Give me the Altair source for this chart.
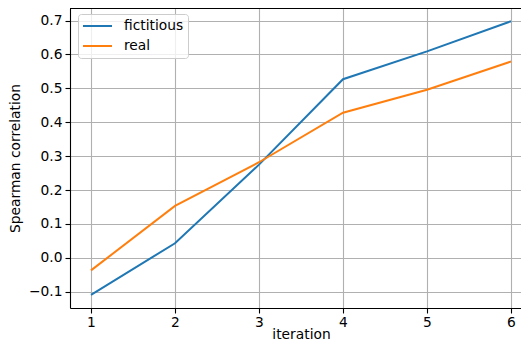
import altair as alt
import pandas as pd

iterations = [1, 2, 3, 4, 5, 6]
fictitious = [-0.109, 0.043, 0.275, 0.527, 0.609, 0.698]
real = [-0.037, 0.153, 0.282, 0.428, 0.496, 0.579]
series_names = ["fictitious", "real"]
colors = ["#1f77b4", "#ff7f0e"]
y_ticks = [-0.1, 0.0, 0.1, 0.2, 0.3, 0.4, 0.5, 0.6, 0.7]

rows = []
for name, vals in zip(series_names, [fictitious, real]):
    for it, v in zip(iterations, vals):
        rows.append({"iteration": it, "value": v, "series": name})
df = pd.DataFrame(rows)

FONT = "DejaVu Sans"
FS = 13.8
W = 451

lines = alt.Chart(df).mark_line(strokeWidth=2, clip=True).encode(
    x=alt.X("iteration:Q",
            scale=alt.Scale(domain=[0.75, 6.119], nice=False, zero=False),
            axis=alt.Axis(values=iterations, format="d", title="iteration",
                          grid=True, titleX=231, titleY=33, titleAlign="center",
                          titleBaseline="bottom", labelPadding=2)),
    y=alt.Y("value:Q",
            scale=alt.Scale(domain=[-0.148, 0.737], nice=False, zero=False),
            axis=alt.Axis(values=y_ticks, format=".1f", title="Spearman correlation",
                          grid=True, titleX=-51, titleY=150, titleAngle=270,
                          titleAlign="center", titleBaseline="alphabetic",
                          labelPadding=3)),
    color=alt.Color("series:N",
                    scale=alt.Scale(domain=series_names, range=colors),
                    legend=alt.Legend(title=None, orient="none", legendX=8, legendY=6,
                                      symbolType="stroke", symbolSize=841,
                                      symbolStrokeWidth=2, labelFontSize=FS,
                                      labelFont=FONT, labelColor="black",
                                      padding=4, rowPadding=4, clipHeight=16,
                                      strokeColor="#cccccc", cornerRadius=3,
                                      fillColor="rgba(255,255,255,0.8)",
                                      labelOffset=11)),
)

top_spine = alt.Chart(df).mark_rule(color="black", strokeWidth=1.1).encode(
    x=alt.value(0), x2=alt.value(W), y=alt.value(0)
)

chart = alt.layer(lines, top_spine).properties(
    width=W, height=300,
    autosize=alt.AutoSizeParams(type="none"),
    padding={"left": 62, "top": 0, "right": 0, "bottom": 33},
).configure_view(
    strokeWidth=0
).configure_axis(
    labelFont=FONT, titleFont=FONT, labelFontSize=FS, titleFontSize=FS,
    labelColor="black", titleColor="black", titleFontWeight="normal",
    gridColor="#b0b0b0", gridWidth=1.1, gridOpacity=1,
    domainColor="black", domainWidth=1.1,
    tickColor="black", tickSize=5, tickWidth=1.1,
)

chart.save("out.html", embed_options={"renderer": "svg", "actions": False})
